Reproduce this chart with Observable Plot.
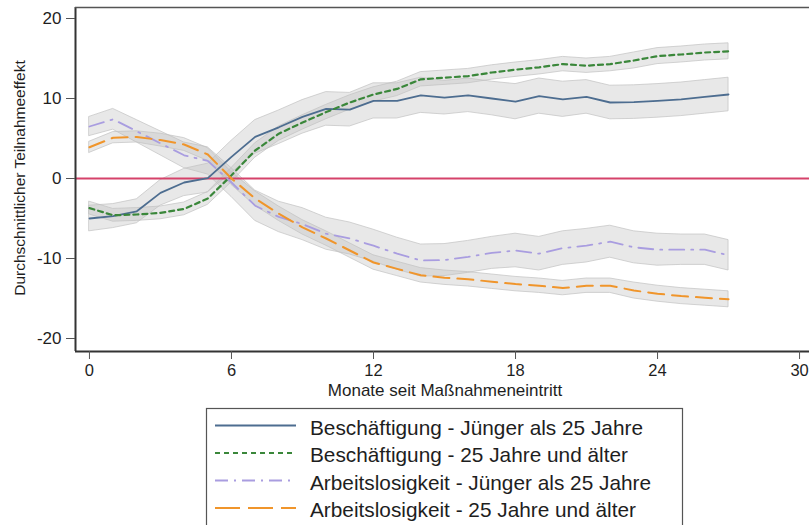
<!DOCTYPE html>
<html>
<head>
<meta charset="utf-8">
<script src="https://cdn.jsdelivr.net/npm/d3@7"></script>
<script src="https://cdn.jsdelivr.net/npm/@observablehq/plot@0.6"></script>
<style>
  html, body { margin: 0; padding: 0; background: #fff; overflow: hidden; }
  body { width: 809px; height: 525px; position: relative; font-family: "Liberation Sans", Arial, sans-serif; }
  #chart { position: absolute; left: 0; top: 0; }
  #legend { position: absolute; left: 0; top: 0; }
</style>
</head>
<body>
<div id="chart"></div>
<svg id="legend" width="809" height="525"></svg>
<script>
// Months since program entry
const months = [0,1,2,3,4,5,6,7,8,9,10,11,12,13,14,15,16,17,18,19,20,21,22,23,24,25,26,27];

// Beschäftigung - Jünger als 25 Jahre
const besJung   = [-5.0,-4.7,-4.1,-1.8,-0.5,0.05,2.7,5.2,6.4,7.7,8.7,8.6,9.7,9.7,10.4,10.1,10.4,10.0,9.6,10.3,9.9,10.2,9.5,9.55,9.7,9.9,10.2,10.5];
const besJungHW = [1.6,1.5,1.5,1.6,1.7,1.8,2.0,2.1,2.1,2.1,2.1,2.1,2.2,2.2,2.2,2.1,2.1,2.1,2.2,2.2,2.2,2.1,2.1,2.1,2.1,2.1,2.1,2.1];

// Beschäftigung - 25 Jahre und älter
const besAlt    = [-3.7,-4.6,-4.5,-4.3,-3.8,-2.5,0.4,3.5,5.6,7.0,8.3,9.5,10.5,11.2,12.4,12.6,12.8,13.25,13.6,13.9,14.3,14.1,14.3,14.75,15.3,15.5,15.75,15.9];
const besAltHW  = [0.8,0.8,0.8,0.8,0.8,0.8,0.9,0.9,0.9,0.9,0.9,0.9,0.9,0.9,0.9,0.9,0.9,0.9,0.9,0.9,0.9,0.9,0.9,1.0,1.0,1.0,1.0,1.0];

// Arbeitslosigkeit - Jünger als 25 Jahre
const alJung    = [6.5,7.4,5.9,4.4,2.9,2.2,-0.5,-3.4,-4.8,-5.7,-6.9,-7.5,-8.4,-9.4,-10.25,-10.2,-9.8,-9.3,-9.0,-9.4,-8.7,-8.4,-7.9,-8.6,-8.9,-8.9,-8.9,-9.6];
const alJungHW  = [1.2,1.3,1.4,1.5,1.6,1.7,1.8,1.9,1.9,2.0,2.0,2.0,2.0,2.0,2.0,2.0,2.0,2.0,2.1,2.1,2.1,2.1,2.0,2.0,2.0,1.9,1.9,1.9];

// Arbeitslosigkeit - 25 Jahre und älter
const alAlt     = [3.9,5.1,5.2,4.8,4.25,3.0,0.0,-2.5,-4.4,-6.1,-7.5,-9.0,-10.5,-11.3,-12.1,-12.4,-12.6,-12.9,-13.2,-13.4,-13.7,-13.4,-13.4,-14.0,-14.4,-14.7,-14.9,-15.1];
const alAltHW   = [0.7,0.7,0.7,0.8,0.8,0.8,0.8,0.9,0.9,0.9,0.9,0.9,0.9,0.9,0.9,0.9,0.9,0.9,0.9,0.9,0.9,0.9,0.9,1.0,1.0,1.0,1.0,1.0];

const seriesNames = [
  "Beschäftigung - Jünger als 25 Jahre",
  "Beschäftigung - 25 Jahre und älter",
  "Arbeitslosigkeit - Jünger als 25 Jahre",
  "Arbeitslosigkeit - 25 Jahre und älter"
];
const xTicks = [0,6,12,18,24,30];
const yTicks = [-20,-10,0,10,20];
const xLabel = "Monate seit Maßnahmeneintritt";
const yLabel = "Durchschnittlicher Teilnahmeeffekt";

const styles = [
  {stroke: "#4d6d90", dash: null,        legendDash: null,        width: 1.8},
  {stroke: "#3a873a", dash: "5,4",       legendDash: "5,4",       width: 2.2},
  {stroke: "#a99de0", dash: "15,7,2,7",  legendDash: "13,6,2,6",  width: 1.8},
  {stroke: "#f0952b", dash: "16,8",      legendDash: "25,8",      width: 2.0}
];

const values = [besJung, besAlt, alJung, alAlt];
const hws = [besJungHW, besAltHW, alJungHW, alAltHW];

const rows = [];
values.forEach((arr, s) => {
  arr.forEach((v, i) => rows.push({series: seriesNames[s], m: months[i], v, lo: v - hws[s][i], hi: v + hws[s][i]}));
});

const xDomain = [-0.59, 30.42];
const yDomain = [-21.625, 21.375];

const marks = [];
seriesNames.forEach((name) => {
  marks.push(Plot.areaY(rows.filter(d => d.series === name), {
    x: "m", y1: "lo", y2: "hi",
    fill: "#bfbfbf", fillOpacity: 0.36, stroke: "#c2c2c2", strokeOpacity: 0.7, strokeWidth: 1
  }));
});
marks.push(Plot.ruleY([0], {stroke: "#d5426a", strokeWidth: 2}));
seriesNames.forEach((name, s) => {
  marks.push(Plot.line(rows.filter(d => d.series === name), {
    x: "m", y: "v", stroke: styles[s].stroke, strokeWidth: styles[s].width,
    strokeDasharray: styles[s].dash
  }));
});
// axis frame lines
marks.push(Plot.ruleX([xDomain[0]], {stroke: "#333", strokeWidth: 2}));
marks.push(Plot.ruleY([yDomain[0]], {stroke: "#333", strokeWidth: 2}));
marks.push(Plot.ruleY([yDomain[1]], {stroke: "#555", strokeWidth: 1.5}));
marks.push(Plot.axisY({ticks: yTicks, tickFormat: d => String(d), tickSize: 9, tickPadding: 5, fontSize: 17, label: null, stroke: "#555", fill: "#1e1e1e"}));
marks.push(Plot.axisX({ticks: xTicks, tickFormat: d => String(d), tickSize: 8, tickPadding: 5, fontSize: 16.5, label: null, stroke: "#555", fill: "#1e1e1e"}));

const plot = Plot.plot({
  width: 809,
  height: 400,
  marginLeft: 75,
  marginRight: 0,
  marginTop: 7,
  marginBottom: 49,
  x: {domain: xDomain},
  y: {domain: yDomain},
  style: {fontFamily: "Liberation Sans, Arial, sans-serif", background: "white", overflow: "hidden"},
  marks
});
document.getElementById("chart").appendChild(plot);

const svg = d3.select(plot);
svg.append("text")
  .attr("x", 445).attr("y", 395.5)
  .attr("text-anchor", "middle")
  .attr("font-size", 17)
  .attr("fill", "#1e1e1e")
  .text(xLabel);
svg.append("text")
  .attr("transform", "translate(25,178) rotate(-90)")
  .attr("text-anchor", "middle")
  .attr("font-size", 15.5)
  .attr("fill", "#1e1e1e")
  .text(yLabel);

// Legend
const lg = d3.select("#legend").style("font-family", "Liberation Sans, Arial, sans-serif");
lg.append("rect").attr("x", 206.5).attr("y", 408.5).attr("width", 476).attr("height", 140)
  .attr("fill", "white").attr("stroke", "#555").attr("stroke-width", 1.2);
const rowY = [425.5, 453, 480.5, 508];
seriesNames.forEach((name, s) => {
  lg.append("line").attr("x1", 215).attr("x2", 296).attr("y1", rowY[s]).attr("y2", rowY[s])
    .attr("stroke", styles[s].stroke).attr("stroke-width", styles[s].width)
    .attr("stroke-dasharray", styles[s].legendDash);
  lg.append("text").attr("x", 310).attr("y", rowY[s] + 9)
    .attr("font-size", 20.8).attr("fill", "#1e1e1e").text(name);
});
</script>
</body>
</html>
